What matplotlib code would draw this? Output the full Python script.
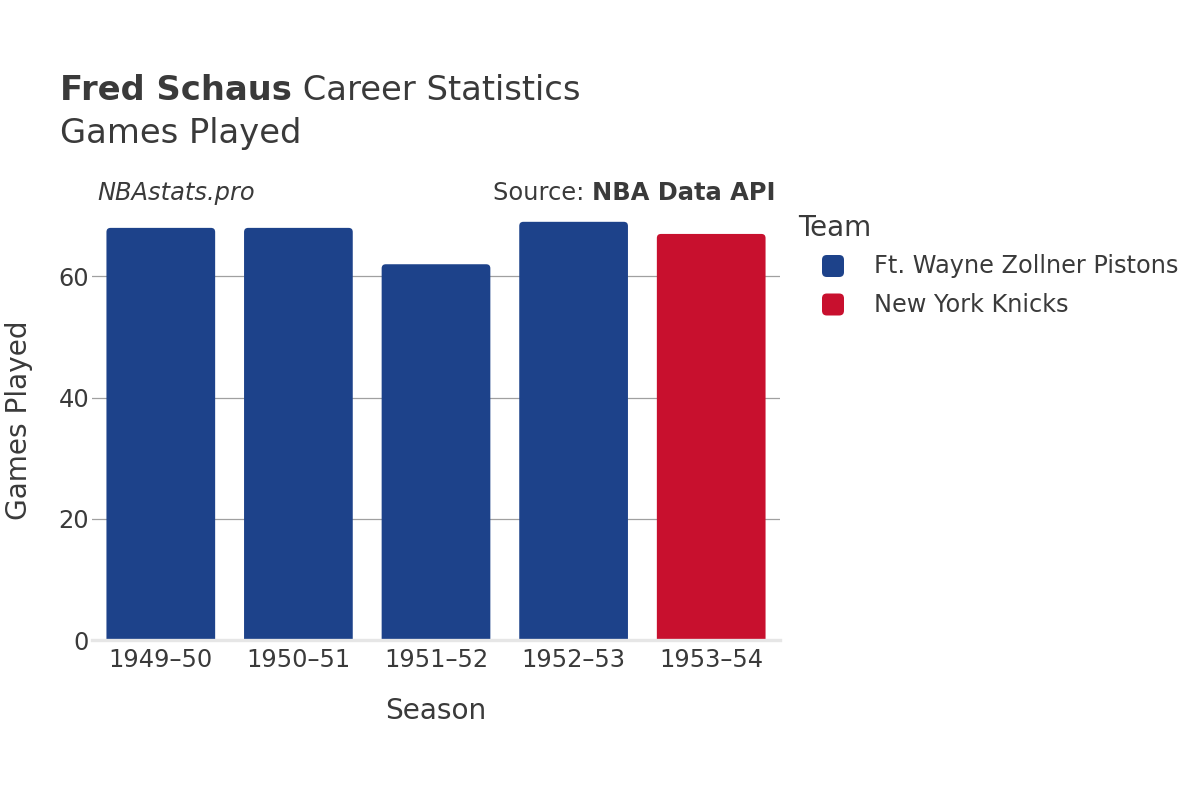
import matplotlib
matplotlib.use("Agg")
import matplotlib.pyplot as plt
from matplotlib.patches import FancyBboxPatch
import numpy as np

seasons = ["1949–50", "1950–51", "1951–52", "1952–53", "1953–54"]
games = [68, 68, 62, 69, 67]
teams = ["Ft. Wayne Zollner Pistons", "Ft. Wayne Zollner Pistons",
         "Ft. Wayne Zollner Pistons", "Ft. Wayne Zollner Pistons", "New York Knicks"]
team_names = ["Ft. Wayne Zollner Pistons", "New York Knicks"]
team_colors = {"Ft. Wayne Zollner Pistons": "#1d428a", "New York Knicks": "#c8102e"}

TXT = "#3a3a3a"
plt.rcParams['font.family'] = ['DejaVu Sans']

W, H = 1200, 800
fig = plt.figure(figsize=(12, 8), dpi=100)
ax = fig.add_axes([92 / W, 1 - 640 / H, 688 / W, 440 / H])

x = np.arange(len(seasons))
ymax = 72.6
ax.set_xlim(-0.5, len(seasons) - 0.5)
ax.set_ylim(0, ymax)

# grid
for gy in [20, 40, 60]:
    ax.axhline(gy, color="#a0a0a0", lw=0.9, zorder=0)

bw = 0.79
xpx = 688 / len(seasons)
ypx = 440 / ymax
aspect = xpx / ypx
for xi, g, t in zip(x, games, teams):
    p = FancyBboxPatch((xi - bw / 2, -5), bw, g + 5,
                       boxstyle="round,pad=0,rounding_size=0.03",
                       mutation_aspect=aspect,
                       facecolor=team_colors[t], edgecolor="none", zorder=2)
    ax.add_patch(p)

ax.axhline(0, color="#e6e6e6", lw=2.4, zorder=3, clip_on=False)

for s in ax.spines.values():
    s.set_visible(False)
ax.set_xticks(x)
ax.set_xticklabels(seasons)
ax.set_yticks([0, 20, 40, 60])
ax.tick_params(axis="both", length=0, labelsize=17.4, colors=TXT, labelcolor=TXT)
ax.tick_params(axis="x", pad=6)
ax.tick_params(axis="y", pad=2)
ax.set_xlabel("Season", fontsize=20.2, color=TXT, labelpad=18)
ax.set_ylabel("Games Played", fontsize=20.2, color=TXT, labelpad=18)

# titles
fig.canvas.draw()
r = fig.canvas.get_renderer()
t1 = fig.text(60 / W, 1 - 90 / H, "Fred Schaus", fontsize=24.3, fontweight="bold",
              color=TXT, va="center", ha="left")
bb = t1.get_window_extent(renderer=r)
fig.text(bb.x1 / W, 1 - 90 / H, " Career Statistics", fontsize=24.3, color=TXT,
         va="center", ha="left")
fig.text(60 / W, 1 - 133 / H, "Games Played", fontsize=24.3, color=TXT,
         va="center", ha="left")

fig.text(97 / W, 1 - 193 / H, "NBAstats.pro", fontsize=17.4, style="italic",
         color=TXT, va="center", ha="left")
t2 = fig.text(776 / W, 1 - 193 / H, "NBA Data API", fontsize=17.4, fontweight="bold",
              color=TXT, va="center", ha="right")
bb2 = t2.get_window_extent(renderer=r)
fig.text(bb2.x0 / W, 1 - 193 / H, "Source: ", fontsize=17.4, color=TXT,
         va="center", ha="right")

# legend
fig.text(798 / W, 1 - 228 / H, "Team", fontsize=20, color=TXT, va="center", ha="left")
for i, tn in enumerate(team_names):
    yc = 266 + i * 38.5
    sq = FancyBboxPatch(((833 - 11) / W, 1 - (yc + 11) / H), 22 / W, 22 / H,
                        boxstyle="round,pad=0,rounding_size=0.004",
                        mutation_aspect=W / H,
                        transform=fig.transFigure, facecolor=team_colors[tn],
                        edgecolor="none")
    fig.patches.append(sq)
    fig.text(874 / W, 1 - yc / H, tn, fontsize=17.3, color=TXT, va="center", ha="left")

fig.savefig("out.png", dpi=100, facecolor="white")
